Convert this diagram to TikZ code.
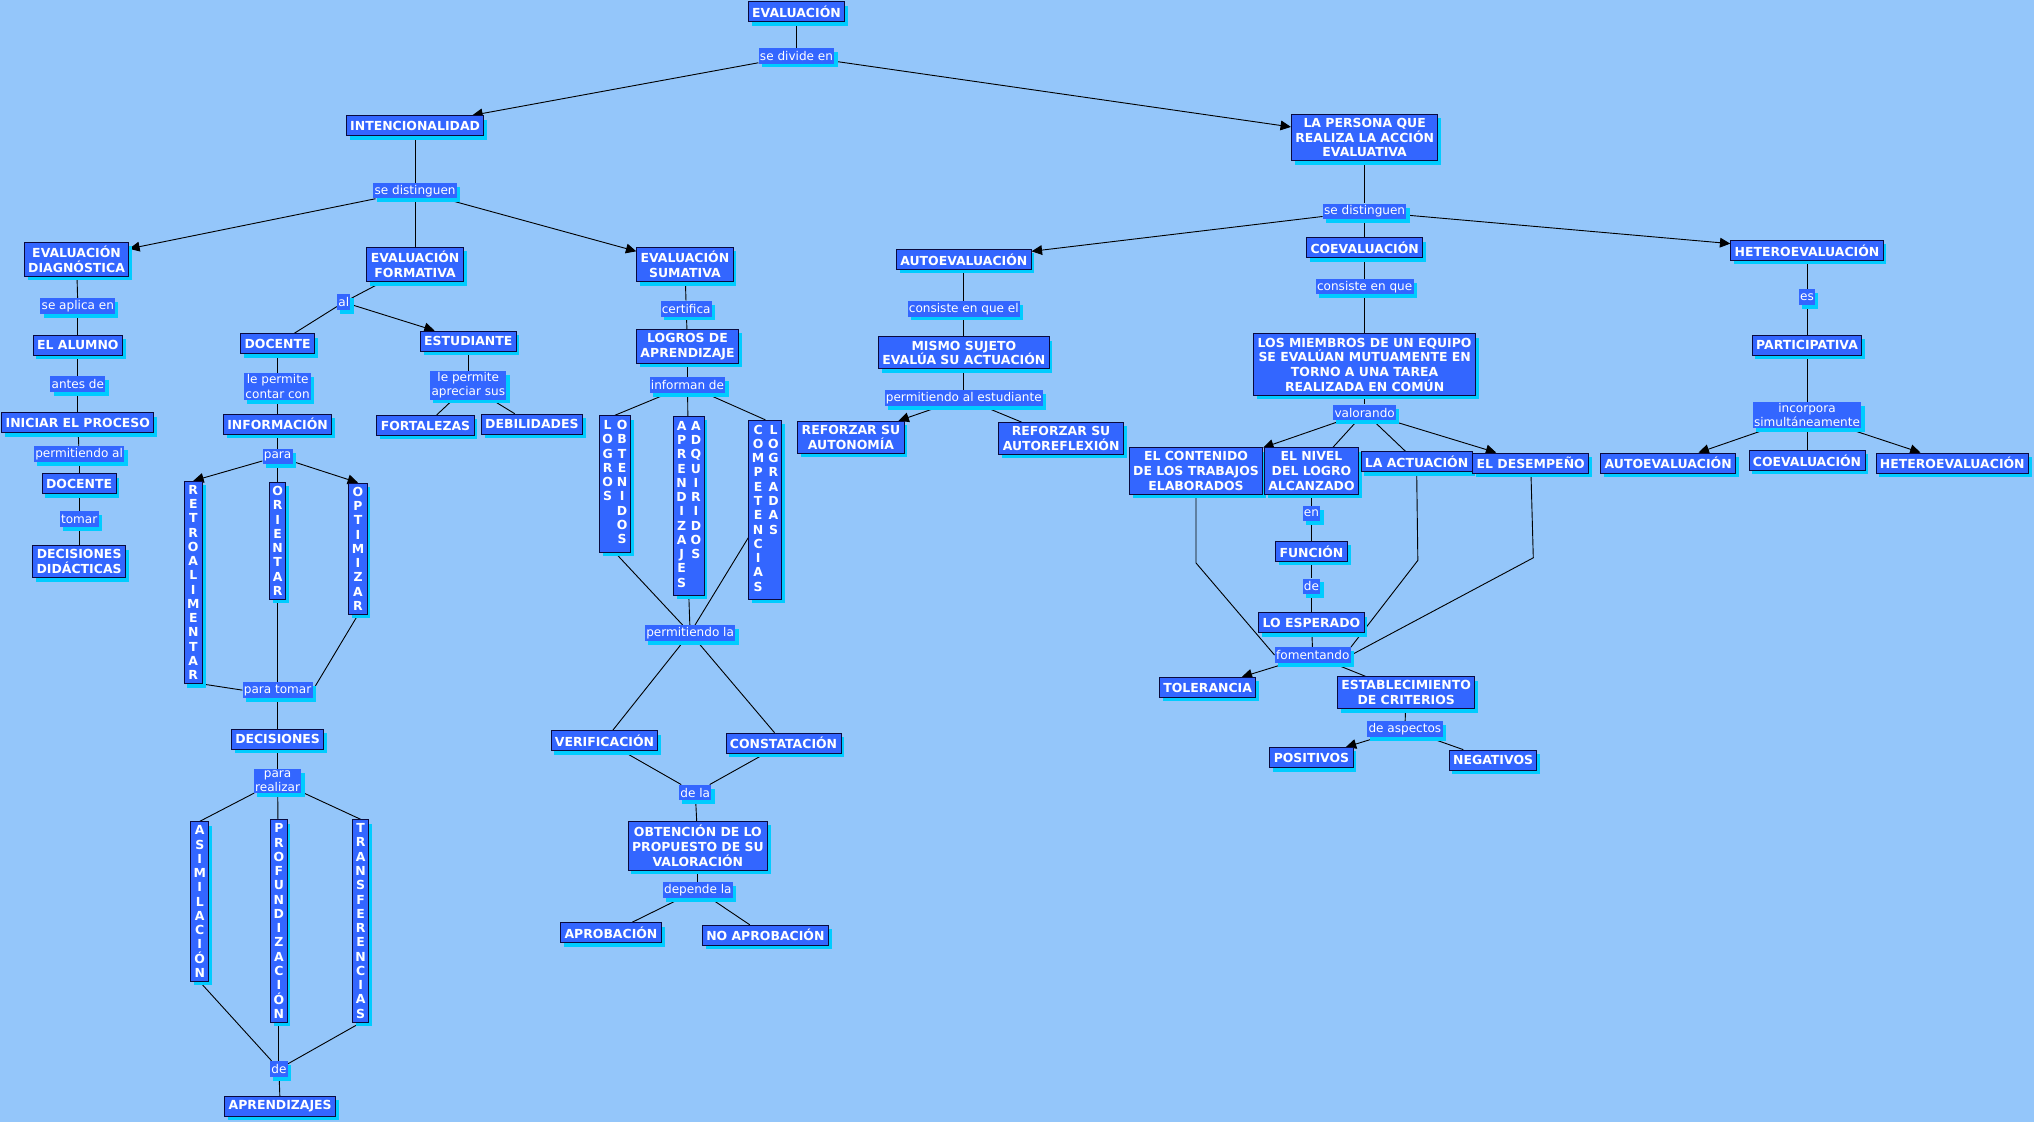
\documentclass[tikz,border=0pt]{standalone}
\usepackage{fontspec}
\setmainfont{DejaVu Sans}
\usetikzlibrary{shadows,arrows.meta}
\pgfdeclarelayer{bg}
\pgfsetlayers{bg,main}
\definecolor{bgc}{HTML}{94C6FA}
\definecolor{nodec}{HTML}{3366FF}
\definecolor{shc}{HTML}{00CCFF}
\definecolor{bordc}{HTML}{0A0A3C}
\tikzset{
  shad/.style={drop shadow={shadow xshift=2.5pt,shadow yshift=-3pt,fill=shc,opacity=1}},
  concept/.style={shad,draw=bordc,line width=0.7pt,fill=nodec,text=white,
    font=\bfseries\fontsize{9.6}{11.3}\selectfont,align=center,
    inner xsep=3pt,inner ysep=3pt,minimum height=15.5pt},
  vert/.style={concept,font=\bfseries\fontsize{9.6}{11}\selectfont,inner xsep=2.3pt},
  link/.style={shad,fill=nodec,text=white,font=\fontsize{9.3}{11}\selectfont,
    align=center,inner xsep=1pt,inner ysep=1pt,minimum height=12pt},
  conn/.style={draw=black,line width=0.7pt},
  arr/.style={conn,-{Triangle[length=8pt,width=7.5pt]}},
}
\begin{document}
\begin{tikzpicture}[x=1pt,y=-1pt]
\begin{pgfonlayer}{bg}
\fill[bgc] (0,0) rectangle (1568,865);
\end{pgfonlayer}
\useasboundingbox (0,0) rectangle (1568,865);

% ---------- top ----------
\node[concept] (ev) at (614,9) {EVALUACIÓN};
\node[link] (l_div) at (614,43) {se divide en};
\node[concept] (inten) at (320,97) {INTENCIONALIDAD};
\node[concept] (persona) at (1052,106) {LA PERSONA QUE\\REALIZA LA ACCIÓN\\EVALUATIVA};
\node[link] (l_sdL) at (320,147) {se distinguen};
\node[link] (l_sdR) at (1052,163) {se distinguen};

% ---------- left branch ----------
\node[concept] (diag) at (59,200) {EVALUACIÓN\\DIAGNÓSTICA};
\node[concept] (form) at (320,204) {EVALUACIÓN\\FORMATIVA};
\node[concept] (suma) at (528,204) {EVALUACIÓN\\SUMATIVA};
\node[link] (l_aplica) at (60,236) {se aplica en};
\node[concept] (alumno) at (60,266) {EL ALUMNO};
\node[link] (l_antes) at (60,296) {antes de};
\node[concept] (iniciar) at (60,326) {INICIAR EL PROCESO};
\node[link] (l_permal) at (61,350) {permitiendo al};
\node[concept] (docente2) at (61,373) {DOCENTE};
\node[link] (l_tomar) at (61,400) {tomar};
\node[concept] (decdid) at (61,433) {DECISIONES\\DIDÁCTICAS};

\node[link] (l_al) at (265,233) {al};
\node[concept] (docente) at (214,265) {DOCENTE};
\node[concept] (estud) at (361,263) {ESTUDIANTE};
\node[link] (l_contar) at (214,298) {le permite\\contar con};
\node[link] (l_apreciar) at (361,297) {le permite\\apreciar sus};
\node[concept] (informacion) at (214,327) {INFORMACIÓN};
\node[concept] (fortal) at (328,328) {FORTALEZAS};
\node[concept] (debil) at (410,327) {DEBILIDADES};
\node[link] (l_para) at (214,352) {para};
\node[vert] (retro) at (149,449) {R\\E\\T\\R\\O\\A\\L\\I\\M\\E\\N\\T\\A\\R};
\node[vert] (orient) at (214,417) {O\\R\\I\\E\\N\\T\\A\\R};
\node[vert] (optim) at (276,423) {O\\P\\T\\I\\M\\I\\Z\\A\\R};
\node[link] (l_paratomar) at (214,532) {para tomar};
\node[concept] (decis) at (214,570) {DECISIONES};
\node[link] (l_realizar) at (214,602) {para\\realizar};
\node[vert] (asim) at (154,695) {A\\S\\I\\M\\I\\L\\A\\C\\I\\Ó\\N};
\node[vert] (prof) at (215,710) {P\\R\\O\\F\\U\\N\\D\\I\\Z\\A\\C\\I\\Ó\\N};
\node[vert] (trans) at (278,710) {T\\R\\A\\N\\S\\F\\E\\R\\E\\N\\C\\I\\A\\S};
\node[link] (l_de) at (215,824) {de};
\node[concept] (aprendiz) at (216,853) {APRENDIZAJES};

% ---------- sumativa ----------
\node[link] (l_cert) at (529,238) {certifica};
\node[concept] (logros) at (530,267) {LOGROS DE\\APRENDIZAJE};
\node[link] (l_inform) at (530,297) {informan de};
\node[vert] (lobt) at (474,373) {\begin{tabular}{@{}c@{\hspace{3pt}}c@{}}L&O\\O&B\\G&T\\R&E\\O&N\\S&I\\&D\\&O\\&S\end{tabular}};
\node[vert] (aadq) at (531,390) {\begin{tabular}{@{}c@{\hspace{3pt}}c@{}}A&A\\P&D\\R&Q\\E&U\\N&I\\D&R\\I&I\\Z&D\\A&O\\J&S\\E&\\S&\end{tabular}};
\node[vert] (clog) at (590,393) {\begin{tabular}{@{}c@{\hspace{3pt}}c@{}}C&L\\O&O\\M&G\\P&R\\E&A\\T&D\\E&A\\N&S\\C&\\I&\\A&\\S&\end{tabular}};
\node[link] (l_permla) at (532,488) {permitiendo la};
\node[concept] (verif) at (466,571) {VERIFICACIÓN};
\node[concept] (constat) at (604,573) {CONSTATACIÓN};
\node[link] (l_dela) at (536,611) {de la};
\node[concept] (obten) at (538,652) {OBTENCIÓN DE LO\\PROPUESTO DE SU\\VALORACIÓN};
\node[link] (l_depende) at (538,686) {depende la};
\node[concept] (aprob) at (471,719) {APROBACIÓN};
\node[concept] (noaprob) at (590,721) {NO APROBACIÓN};

% ---------- right branch ----------
\node[concept] (auto) at (743,200) {AUTOEVALUACIÓN};
\node[concept] (coev) at (1052,191) {COEVALUACIÓN};
\node[concept] (hetero) at (1393,193) {HETEROEVALUACIÓN};
\node[link] (l_cqe) at (743,238) {consiste en que el};
\node[link] (l_cq) at (1052,221) {consiste en que};
\node[link] (l_es) at (1393,229) {es};
\node[concept] (mismo) at (743,272) {MISMO SUJETO\\EVALÚA SU ACTUACIÓN};
\node[concept] (miembros) at (1052,281) {LOS MIEMBROS DE UN EQUIPO\\SE EVALÚAN MUTUAMENTE EN\\TORNO A UNA TAREA\\REALIZADA EN COMÚN};
\node[concept] (partic) at (1393,266) {PARTICIPATIVA};
\node[link] (l_pae) at (743,307) {permitiendo al estudiante};
\node[link] (l_valor) at (1052,318) {valorando};
\node[link] (l_incorp) at (1393,320) {incorpora\\simultáneamente};
\node[concept] (rauton) at (656,337) {REFORZAR SU\\AUTONOMÍA};
\node[concept] (rautoref) at (818,338) {REFORZAR SU\\AUTOREFLEXIÓN};
\node[concept] (contenido) at (922,363) {EL CONTENIDO\\DE LOS TRABAJOS\\ELABORADOS};
\node[concept] (nivel) at (1011,363) {EL NIVEL\\DEL LOGRO\\ALCANZADO};
\node[concept] (actuacion) at (1092,356) {LA ACTUACIÓN};
\node[concept] (desemp) at (1180,357) {EL DESEMPEÑO};
\node[concept] (auto2) at (1286,357) {AUTOEVALUACIÓN};
\node[concept] (coev2) at (1393,355) {COEVALUACIÓN};
\node[concept] (hetero2) at (1505,357) {HETEROEVALUACIÓN};
\node[link] (l_en) at (1011,396) {en};
\node[concept] (funcion) at (1011,425) {FUNCIÓN};
\node[link] (l_de2) at (1011,452) {de};
\node[concept] (esperado) at (1011,480) {LO ESPERADO};
\node[link] (l_foment) at (1012,505) {fomentando};
\node[concept] (toler) at (931,530) {TOLERANCIA};
\node[concept] (establ) at (1084,534) {ESTABLECIMIENTO\\DE CRITERIOS};
\node[link] (l_aspectos) at (1083,562) {de aspectos};
\node[concept] (posit) at (1011,584) {POSITIVOS};
\node[concept] (negat) at (1151,586) {NEGATIVOS};

\coordinate (b1) at (922,434);
\coordinate (b2) at (1093,432);
\coordinate (b3) at (1182,430);

% ---------- connectors ----------
\begin{pgfonlayer}{bg}
\draw[conn] (ev) -- (l_div);
\draw[arr] (l_div) -- (inten);
\draw[arr] (l_div) -- (persona);
\draw[conn] (inten) -- (l_sdL);
\draw[arr] (l_sdL) -- (diag);
\draw[conn] (l_sdL) -- (form);
\draw[arr] (l_sdL) -- (suma);

\draw[conn] (diag) -- (l_aplica);
\draw[conn] (l_aplica) -- (alumno);
\draw[conn] (alumno) -- (l_antes);
\draw[conn] (l_antes) -- (iniciar);
\draw[conn] (iniciar) -- (l_permal);
\draw[conn] (l_permal) -- (docente2);
\draw[conn] (docente2) -- (l_tomar);
\draw[conn] (l_tomar) -- (decdid);

\draw[conn] (form) -- (l_al);
\draw[conn] (l_al) -- (docente);
\draw[arr] (l_al) -- (estud);
\draw[conn] (docente) -- (l_contar);
\draw[conn] (l_contar) -- (informacion);
\draw[conn] (estud) -- (l_apreciar);
\draw[conn] (l_apreciar) -- (fortal);
\draw[conn] (l_apreciar) -- (debil);
\draw[conn] (informacion) -- (l_para);
\draw[arr] (l_para) -- (retro.north);
\draw[conn] (l_para) -- (orient);
\draw[arr] (l_para) -- (optim.north);
\draw[conn] (retro.south east) -- (l_paratomar.west);
\draw[conn] (orient.south) -- (l_paratomar);
\draw[conn] (optim.south) -- (l_paratomar.east);
\draw[conn] (l_paratomar) -- (decis);
\draw[conn] (decis) -- (l_realizar);
\draw[conn] (l_realizar) -- (asim.north);
\draw[conn] (l_realizar) -- (prof);
\draw[conn] (l_realizar) -- (trans.north);
\draw[conn] (asim.south) -- (l_de);
\draw[conn] (prof.south) -- (l_de);
\draw[conn] (trans.south) -- (l_de);
\draw[conn] (l_de) -- (aprendiz);

\draw[conn] (suma) -- (l_cert);
\draw[conn] (l_cert) -- (logros);
\draw[conn] (logros) -- (l_inform);
\draw[conn] (l_inform) -- (lobt.north);
\draw[conn] (l_inform) -- (aadq);
\draw[conn] (l_inform) -- (clog.north);
\draw[conn] (lobt.south) -- (l_permla);
\draw[conn] (aadq.south) -- (l_permla);
\draw[conn] (clog) -- (l_permla);
\draw[conn] (l_permla) -- (verif);
\draw[conn] (l_permla) -- (constat);
\draw[conn] (verif) -- (l_dela);
\draw[conn] (constat) -- (l_dela);
\draw[conn] (l_dela) -- (obten);
\draw[conn] (obten) -- (l_depende);
\draw[conn] (l_depende) -- (aprob);
\draw[conn] (l_depende) -- (noaprob);

\draw[conn] (persona) -- (l_sdR);
\draw[arr] (l_sdR) -- (auto);
\draw[conn] (l_sdR) -- (coev);
\draw[arr] (l_sdR) -- (hetero);
\draw[conn] (auto) -- (l_cqe);
\draw[conn] (l_cqe) -- (mismo);
\draw[conn] (mismo) -- (l_pae);
\draw[arr] (l_pae) -- (rauton);
\draw[conn] (l_pae) -- (rautoref);
\draw[conn] (coev) -- (l_cq);
\draw[conn] (l_cq) -- (miembros);
\draw[conn] (miembros) -- (l_valor);
\draw[arr] (l_valor) -- (contenido);
\draw[conn] (l_valor) -- (nivel);
\draw[conn] (l_valor) -- (actuacion);
\draw[arr] (l_valor) -- (desemp);
\draw[conn] (nivel) -- (l_en);
\draw[conn] (l_en) -- (funcion);
\draw[conn] (funcion) -- (l_de2);
\draw[conn] (l_de2) -- (esperado);
\draw[conn] (esperado) -- (l_foment);
\draw[conn] (contenido) -- (b1) -- (l_foment.west);
\draw[conn] (actuacion) -- (b2) -- (l_foment.north east);
\draw[conn] (desemp) -- (b3) -- (l_foment.east);
\draw[arr] (l_foment) -- (toler);
\draw[conn] (l_foment) -- (establ);
\draw[conn] (establ) -- (l_aspectos);
\draw[arr] (l_aspectos) -- (posit);
\draw[conn] (l_aspectos) -- (negat);
\draw[conn] (hetero) -- (l_es);
\draw[conn] (l_es) -- (partic);
\draw[conn] (partic) -- (l_incorp);
\draw[arr] (l_incorp) -- (auto2);
\draw[conn] (l_incorp) -- (coev2);
\draw[arr] (l_incorp) -- (hetero2);
\end{pgfonlayer}
\end{tikzpicture}
\end{document}
